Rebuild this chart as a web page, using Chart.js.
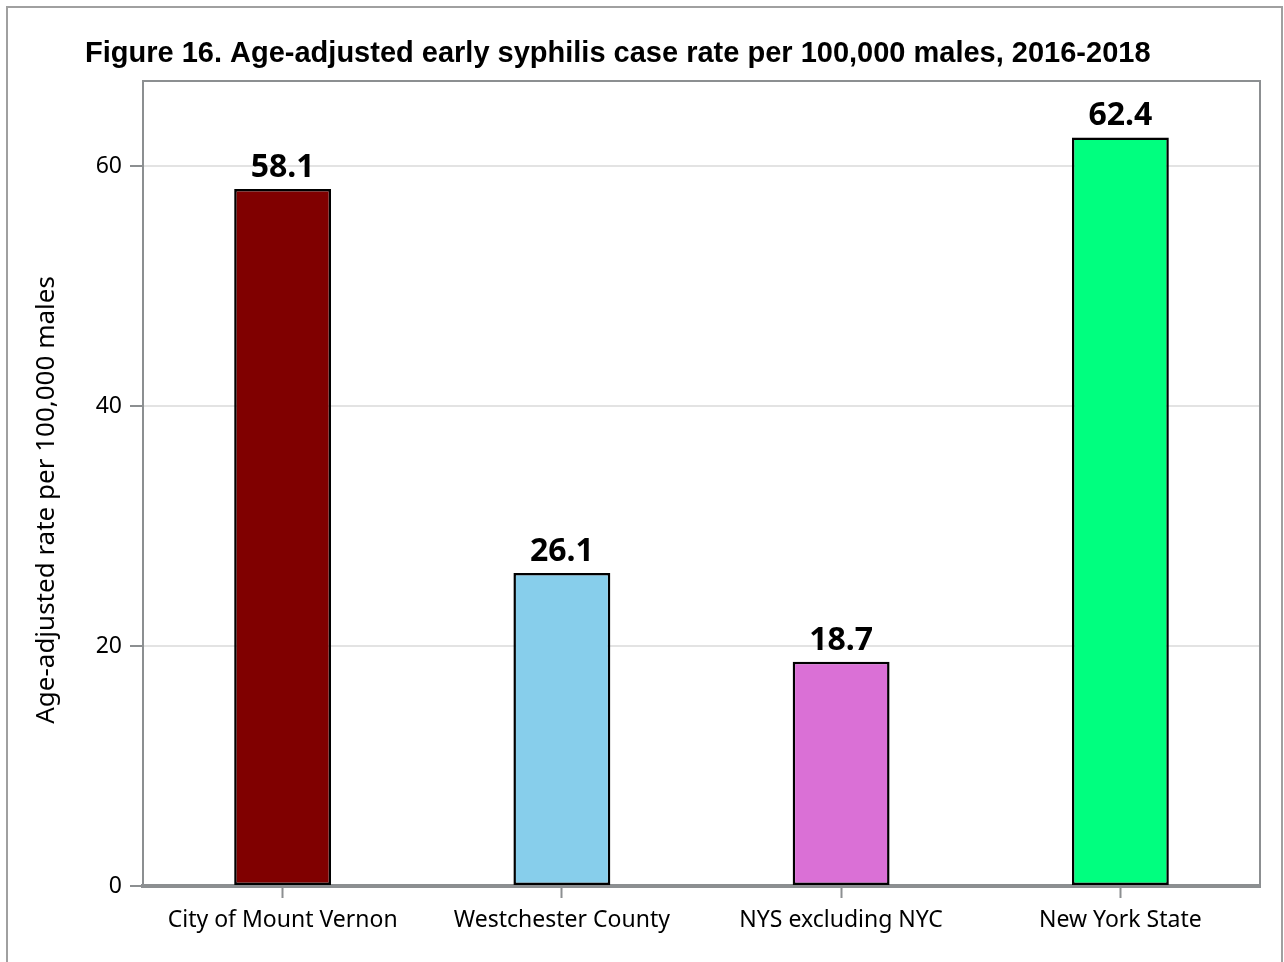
<!DOCTYPE html>
<html>
<head>
<meta charset="utf-8">
<script src="https://cdn.jsdelivr.net/npm/chart.js@4"></script>
<style>
  html, body { margin: 0; padding: 0; background: #fff; }
  #wrap { width: 1284px; height: 962px; }
</style>
</head>
<body>
<div id="wrap"><canvas id="syphilis-chart" width="1284" height="962"></canvas></div>
<script>
// chart data
const categories = ["City of Mount Vernon", "Westchester County", "NYS excluding NYC", "New York State"];
const rates = [58.1, 26.1, 18.7, 62.4];
const barColors = ["#800000", "#87ceeb", "#da70d6", "#00ff7f"];
const yTicks = [0, 20, 40, 60];

const titleText = "Figure 16. Age-adjusted early syphilis case rate per 100,000 males, 2016-2018";
const yTitle = "Age-adjusted rate per 100,000 males";

// frame, title, value labels
const decorations = {
  id: "decorations",
  afterDraw(chart) {
    const ctx = chart.ctx;
    const area = chart.chartArea;
    ctx.save();
    // outer border
    ctx.strokeStyle = "#a0a0a0";
    ctx.lineWidth = 2;
    ctx.strokeRect(7, 7, 1275, 965);
    // top and right of plot box
    ctx.strokeStyle = "#8c8f91";
    ctx.lineWidth = 2;
    ctx.beginPath();
    ctx.moveTo(area.left, area.top);
    ctx.lineTo(area.right, area.top);
    ctx.lineTo(area.right, area.bottom);
    ctx.stroke();
    // title
    ctx.fillStyle = "#000";
    ctx.font = "bold 29px 'Liberation Sans', Arial, sans-serif";
    ctx.textAlign = "left";
    ctx.textBaseline = "alphabetic";
    ctx.fillText(titleText, 85, 62);
    // y axis title
    ctx.font = "26px 'Noto Sans', sans-serif";
    ctx.translate(47, 500);
    ctx.rotate(-Math.PI / 2);
    ctx.textAlign = "center";
    ctx.textBaseline = "middle";
    ctx.fillText(yTitle, 0, 0);
    ctx.restore();

    // value labels over bars
    ctx.save();
    const meta = chart.getDatasetMeta(0);
    ctx.font = "bold 32px 'Noto Sans', sans-serif";
    ctx.fillStyle = "#000";
    ctx.textAlign = "center";
    ctx.textBaseline = "alphabetic";
    meta.data.forEach((bar, i) => {
      ctx.fillText(rates[i].toFixed(1), bar.x, bar.y - 12);
    });
    ctx.restore();
  }
};

const data = {
  labels: categories,
  datasets: [{
    data: rates,
    backgroundColor: barColors,
    borderColor: "#000",
    borderWidth: 2.5,
    borderSkipped: false,
    barPercentage: 0.347,
    categoryPercentage: 1
  }]
};

const config = {
  type: "bar",
  data: data,
  options: {
    responsive: false,
    animation: false,
    layout: { padding: { left: 0, top: 81, right: 24, bottom: 0 } },
    plugins: {
      legend: { display: false },
      tooltip: { enabled: false },
      title: { display: false }
    },
    scales: {
      x: {
        afterFit: (scale) => { scale.height = 962 - 886; },
        grid: {
          offset: false,
          drawOnChartArea: false,
          drawTicks: true,
          tickLength: 12,
          tickColor: "#8c8f91",
          tickWidth: 2
        },
        border: { display: true, color: "#8c8f91", width: 4 },
        ticks: {
          color: "#000",
          padding: 9,
          font: { family: "'Noto Sans', sans-serif", size: 23 },
          maxRotation: 0
        }
      },
      y: {
        min: 0,
        max: 67.1,
        afterFit: (scale) => { scale.width = 143; },
        afterBuildTicks: (scale) => { scale.ticks = yTicks.map(v => ({ value: v })); },
        grid: {
          color: "#e3e3e3",
          lineWidth: 2,
          tickColor: "#8c8f91",
          tickLength: 13,
          tickWidth: 2
        },
        border: { display: true, color: "#8c8f91", width: 2 },
        ticks: {
          color: "#000",
          padding: 8,
          font: { family: "'Noto Sans', sans-serif", size: 23 }
        }
      }
    }
  },
  plugins: [decorations]
};

new Chart(document.getElementById("syphilis-chart"), config);
</script>
</body>
</html>
